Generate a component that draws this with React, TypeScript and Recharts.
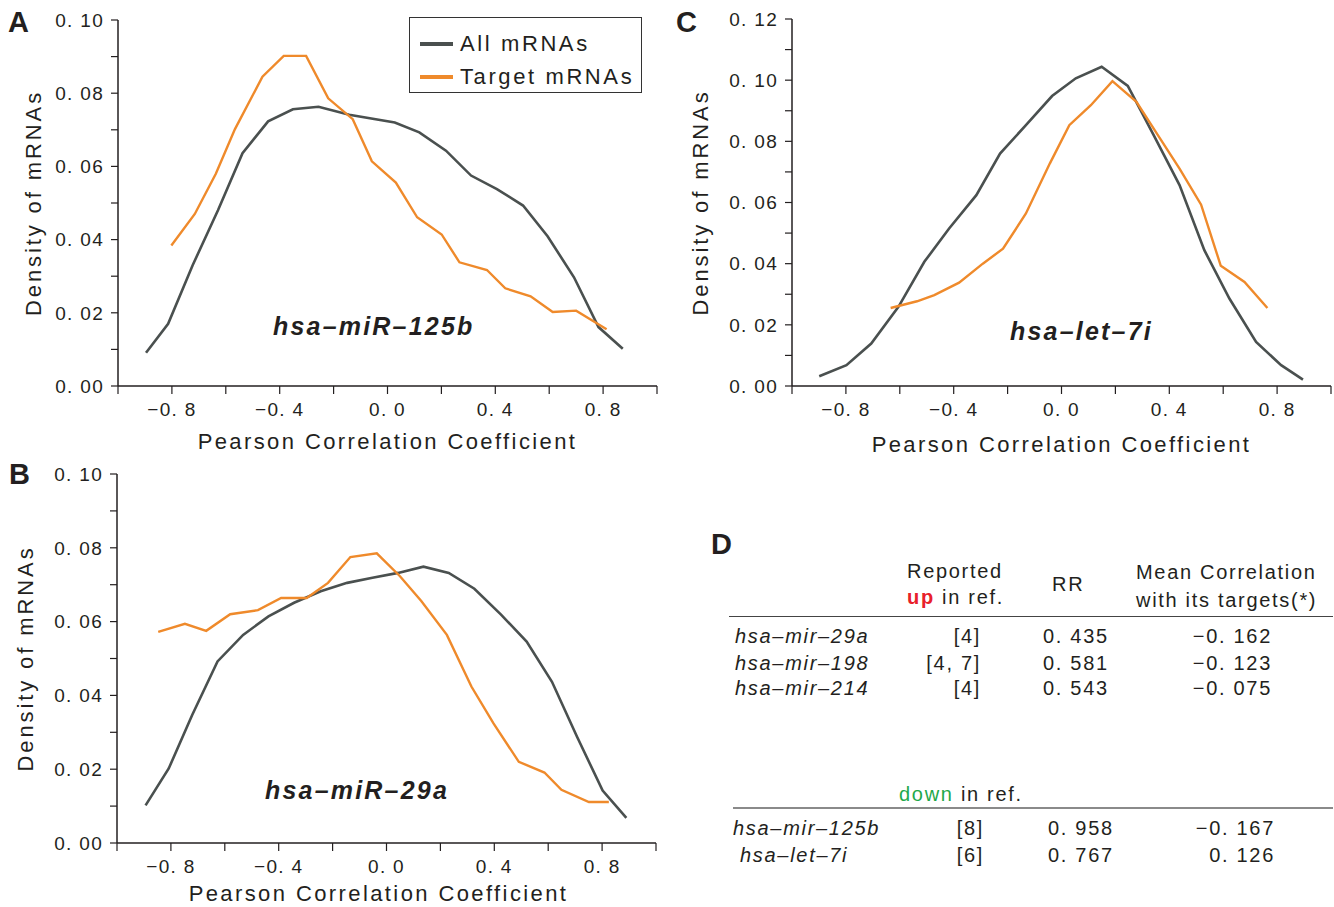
import React from 'react';
import { LineChart, Line, XAxis, YAxis, Legend } from 'recharts';

const GRAY = '#4a504f';
const ORANGE = '#ef8a2b';
const INK = '#231f20';
const FONT = '"Liberation Sans", Arial, sans-serif';

// Panel A: hsa-miR-125b
const allA_r = [-0.896, -0.814, -0.723, -0.629, -0.538, -0.443, -0.351, -0.256, -0.142, 0.027, 0.118, 0.217, 0.31, 0.406, 0.503, 0.594, 0.692, 0.783, 0.873];
const allA_d = [0.0091, 0.017, 0.033, 0.048, 0.0636, 0.0723, 0.0756, 0.0763, 0.0741, 0.072, 0.0693, 0.0643, 0.0575, 0.0538, 0.0493, 0.0409, 0.0297, 0.0161, 0.0102];
const tgtA_r = [-0.802, -0.715, -0.637, -0.566, -0.464, -0.385, -0.302, -0.22, -0.129, -0.058, 0.031, 0.11, 0.201, 0.267, 0.369, 0.437, 0.531, 0.613, 0.7, 0.813];
const tgtA_d = [0.0384, 0.047, 0.058, 0.0702, 0.0845, 0.0902, 0.0902, 0.0786, 0.0729, 0.0614, 0.0556, 0.0461, 0.0414, 0.0338, 0.0317, 0.0267, 0.0245, 0.0202, 0.0206, 0.0155];

// Panel B: hsa-miR-29a
const allB_r = [-0.894, -0.808, -0.721, -0.627, -0.532, -0.438, -0.343, -0.244, -0.146, -0.052, 0.043, 0.137, 0.231, 0.326, 0.425, 0.52, 0.614, 0.707, 0.802, 0.89];
const allB_d = [0.0102, 0.0202, 0.0347, 0.0492, 0.0564, 0.0614, 0.0651, 0.0682, 0.0705, 0.0719, 0.0732, 0.0749, 0.0732, 0.0689, 0.0619, 0.0546, 0.0437, 0.0288, 0.0142, 0.0068];
const tgtB_r = [-0.847, -0.748, -0.669, -0.58, -0.477, -0.391, -0.296, -0.217, -0.134, -0.036, 0.05, 0.129, 0.224, 0.315, 0.397, 0.491, 0.586, 0.649, 0.751, 0.825];
const tgtB_d = [0.0572, 0.0594, 0.0575, 0.062, 0.0631, 0.0664, 0.0664, 0.0705, 0.0775, 0.0785, 0.0723, 0.0656, 0.0564, 0.0424, 0.0324, 0.022, 0.0191, 0.0144, 0.0111, 0.0111];

// Panel C: hsa-let-7i
const allC_r = [-0.899, -0.798, -0.706, -0.605, -0.509, -0.417, -0.316, -0.228, -0.132, -0.035, 0.053, 0.149, 0.246, 0.342, 0.438, 0.53, 0.623, 0.722, 0.815, 0.896];
const allC_d = [0.0032, 0.0068, 0.0139, 0.0259, 0.0406, 0.0515, 0.0624, 0.076, 0.0853, 0.0948, 0.1006, 0.1044, 0.0981, 0.082, 0.0657, 0.0444, 0.0286, 0.0144, 0.0068, 0.0021];
const tgtC_r = [-0.634, -0.536, -0.472, -0.38, -0.292, -0.217, -0.132, -0.043, 0.029, 0.109, 0.189, 0.278, 0.366, 0.438, 0.518, 0.591, 0.679, 0.764];
const tgtC_d = [0.0255, 0.0277, 0.0297, 0.0338, 0.04, 0.0449, 0.0564, 0.0728, 0.0853, 0.0918, 0.0997, 0.0929, 0.0809, 0.0711, 0.0593, 0.0393, 0.034, 0.0255];

const xTicks = [-1, -0.8, -0.6, -0.4, -0.2, 0, 0.2, 0.4, 0.6, 0.8, 1];
const xTickLabels = ['', '−0. 8', '', '−0. 4', '', '0. 0', '', '0. 4', '', '0. 8', ''];
const yTicks10 = [0, 0.01, 0.02, 0.03, 0.04, 0.05, 0.06, 0.07, 0.08, 0.09, 0.1];
const yTickLabels10 = ['0. 00', '', '0. 02', '', '0. 04', '', '0. 06', '', '0. 08', '', '0. 10'];
const yTicks12 = [0, 0.01, 0.02, 0.03, 0.04, 0.05, 0.06, 0.07, 0.08, 0.09, 0.1, 0.11, 0.12];
const yTickLabels12 = ['0. 00', '', '0. 02', '', '0. 04', '', '0. 06', '', '0. 08', '', '0. 10', '', '0. 12'];

// Table D
const upNames = ['hsa–mir–29a', 'hsa–mir–198', 'hsa–mir–214'];
const upRefs = ['[4]', '[4, 7]', '[4]'];
const upRR = [0.435, 0.581, 0.543];
const upCorr = [-0.162, -0.123, -0.075];
const downNames = ['hsa–mir–125b', 'hsa–let–7i'];
const downRefs = ['[8]', '[6]'];
const downRR = [0.958, 0.767];
const downCorr = [-0.167, 0.126];

const fmt3 = (v: number) => `${v < 0 ? '−' : ''}0. ${Math.round(Math.abs(v) * 1000).toString().padStart(3, '0')}`;
const pick = (ticks: number[], labels: string[]) => (v: number) => {
  const i = ticks.findIndex((t) => Math.abs(t - v) < 1e-6);
  return i >= 0 ? labels[i] : '';
};

const Y_W = 115;
const M_TOP = 12;
const M_RIGHT = 6;
const X_H = 75;

const tickStyle = { fontSize: 19, fill: INK, fontFamily: FONT, letterSpacing: 1.3 };
const titleStyle = { fontSize: 22, fill: INK, fontFamily: FONT, letterSpacing: 2.4 };

const LegendBox = ({ payload }: any) => (
  <div style={{ border: '1px solid #333', width: 233, height: 76, boxSizing: 'border-box', background: '#fff', paddingTop: 9, paddingLeft: 10 }}>
    {(payload || []).map((p: any) => (
      <div key={p.value} style={{ display: 'flex', alignItems: 'center', height: 33 }}>
        <span style={{ display: 'inline-block', width: 33, height: 4, background: p.color, marginRight: 7 }} />
        <span style={{ fontFamily: FONT, fontSize: 22, letterSpacing: 2.6, color: INK }}>{p.value}</span>
      </div>
    ))}
  </div>
);

interface PanelProps {
  left: number; top: number; right: number; bottom: number;
  yTicks: number[]; yLabels: string[];
  allR: number[]; allD: number[]; tgtR: number[]; tgtD: number[];
  yTitleX: number; xTitleBase: number; xTitleDx?: number; legend?: boolean;
}

const Panel = (p: PanelProps) => {
  const allData = p.allR.map((r, i) => ({ r, d: p.allD[i] }));
  const tgtData = p.tgtR.map((r, i) => ({ r, d: p.tgtD[i] }));
  const width = p.right - p.left + Y_W + M_RIGHT;
  const height = p.bottom - p.top + M_TOP + X_H;
  const chartLeft = p.left - Y_W;
  const chartTop = p.top - M_TOP;
  return (
    <div style={{ position: 'absolute', left: chartLeft, top: chartTop }}>
      <LineChart width={width} height={height} margin={{ top: M_TOP, right: M_RIGHT, bottom: 0, left: 0 }}>
        <XAxis
          type="number" dataKey="r" domain={[-1, 1]} ticks={xTicks} interval={0} allowDataOverflow
          tickFormatter={pick(xTicks, xTickLabels)} height={X_H} tickSize={8} tickMargin={9}
          tick={tickStyle} stroke={INK} axisLine={{ stroke: INK, strokeWidth: 1.5 }} tickLine={{ stroke: INK, strokeWidth: 1.2 }}
          label={{
            value: 'Pearson Correlation Coefficient', position: 'insideBottom', offset: p.bottom + X_H - p.xTitleBase,
            style: { ...titleStyle, transform: `translateX(${p.xTitleDx || 0}px)` },
          }}
        />
        <YAxis
          type="number" domain={[0, p.yTicks[p.yTicks.length - 1]]} ticks={p.yTicks} interval={0} allowDataOverflow
          tickFormatter={pick(p.yTicks, p.yLabels)} width={Y_W} tickSize={7} tickMargin={7}
          tick={tickStyle} stroke={INK} axisLine={{ stroke: INK, strokeWidth: 1.5 }} tickLine={{ stroke: INK, strokeWidth: 1.2 }}
          label={{ value: 'Density of mRNAs', angle: -90, position: 'insideLeft', offset: p.yTitleX - chartLeft, style: { ...titleStyle, letterSpacing: 2.9, textAnchor: 'middle' } }}
        />
        <Line data={allData} dataKey="d" name="All mRNAs" stroke={GRAY} strokeWidth={2.6} dot={false} isAnimationActive={false} />
        <Line data={tgtData} dataKey="d" name="Target mRNAs" stroke={ORANGE} strokeWidth={2.4} dot={false} isAnimationActive={false} />
        {p.legend && (
          <Legend
            content={<LegendBox />} layout="vertical" align="center" verticalAlign="middle"
            wrapperStyle={{ left: 409 - chartLeft, top: 17 - chartTop, width: 233, height: 76 }}
          />
        )}
      </LineChart>
    </div>
  );
};

const abs = (left: number, top: number, extra: React.CSSProperties = {}): React.CSSProperties => ({
  position: 'absolute', left, top, transform: 'translateY(-50%)', whiteSpace: 'nowrap', lineHeight: 1, fontFamily: FONT, color: INK, ...extra,
});
const rightAt = (right: number, top: number, extra: React.CSSProperties = {}): React.CSSProperties => ({
  position: 'absolute', right: 1334 - right, top, transform: 'translateY(-50%)', whiteSpace: 'nowrap', lineHeight: 1, fontFamily: FONT, color: INK, ...extra,
});

const letter: React.CSSProperties = { fontSize: 29, fontWeight: 'bold' };
const note: React.CSSProperties = { fontSize: 25, fontWeight: 'bold', fontStyle: 'italic', letterSpacing: 2.2 };
const cell: React.CSSProperties = { fontSize: 20, letterSpacing: 1.7 };

const upY = [636, 663, 688];
const downY = [828, 855];

export default function App() {
  return (
    <div style={{ position: 'absolute', left: 0, top: 0, width: 1334, height: 907, overflow: 'hidden', background: '#fff' }}>
      <Panel left={118} top={20} right={657} bottom={386} yTicks={yTicks10} yLabels={yTickLabels10}
        allR={allA_r} allD={allA_d} tgtR={tgtA_r} tgtD={tgtA_d} yTitleX={33} xTitleBase={449} legend />
      <Panel left={117} top={474} right={656} bottom={843} yTicks={yTicks10} yLabels={yTickLabels10}
        allR={allB_r} allD={allB_d} tgtR={tgtB_r} tgtD={tgtB_d} yTitleX={25} xTitleBase={901} xTitleDx={-8} />
      <Panel left={792} top={19} right={1331} bottom={386} yTicks={yTicks12} yLabels={yTickLabels12}
        allR={allC_r} allD={allC_d} tgtR={tgtC_r} tgtD={tgtC_d} yTitleX={700} xTitleBase={452} />

      <div style={abs(8, 22, letter)}>A</div>
      <div style={abs(9, 474, letter)}>B</div>
      <div style={abs(676, 22, letter)}>C</div>
      <div style={abs(711, 544, letter)}>D</div>

      <div style={abs(273, 326, note)}>hsa–miR–125b</div>
      <div style={abs(265, 790, note)}>hsa–miR–29a</div>
      <div style={abs(1010, 331, note)}>hsa–let–7i</div>

      {/* table D */}
      <div style={abs(907, 571, cell)}>Reported</div>
      <div style={abs(907, 597, cell)}>
        <span style={{ color: '#e8202a', fontWeight: 'bold' }}>up</span> in ref.
      </div>
      <div style={abs(1052, 584, cell)}>RR</div>
      <div style={abs(1136, 572, cell)}>Mean Correlation</div>
      <div style={abs(1136, 600, cell)}>with its targets(*)</div>
      <div style={{ position: 'absolute', left: 729, top: 616, width: 604, height: 0, borderTop: '1.5px solid #444' }} />
      {upNames.map((n, i) => (
        <React.Fragment key={n}>
          <div style={abs(735, upY[i], { ...cell, fontStyle: 'italic' })}>{n}</div>
          <div style={rightAt(981, upY[i], cell)}>{upRefs[i]}</div>
          <div style={abs(1043, upY[i], cell)}>{fmt3(upRR[i])}</div>
          <div style={rightAt(1272, upY[i], cell)}>{fmt3(upCorr[i])}</div>
        </React.Fragment>
      ))}
      <div style={abs(899, 794, cell)}>
        <span style={{ color: '#1ea84a' }}>down</span> in ref.
      </div>
      <div style={{ position: 'absolute', left: 733, top: 807, width: 600, height: 0, borderTop: '2px solid #8a8a8a' }} />
      {downNames.map((n, i) => (
        <React.Fragment key={n}>
          <div style={abs(i === 0 ? 733 : 740, downY[i], { ...cell, fontStyle: 'italic' })}>{n}</div>
          <div style={rightAt(984, downY[i], cell)}>{downRefs[i]}</div>
          <div style={abs(1048, downY[i], cell)}>{fmt3(downRR[i])}</div>
          <div style={rightAt(1275, downY[i], cell)}>{fmt3(downCorr[i])}</div>
        </React.Fragment>
      ))}
    </div>
  );
}
